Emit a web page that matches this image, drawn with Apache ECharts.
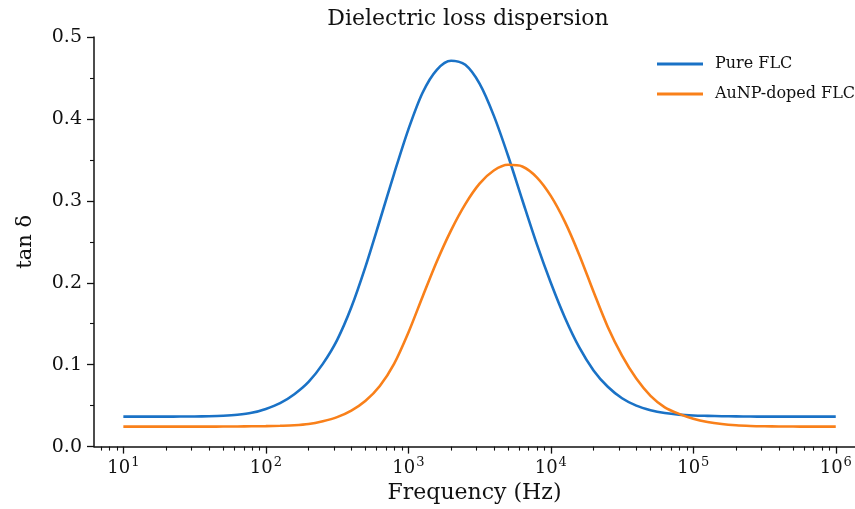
<!DOCTYPE html>
<html>
<head>
<meta charset="utf-8">
<script src="https://cdn.jsdelivr.net/npm/echarts@6/dist/echarts.min.js"></script>
<style>
  html, body { margin: 0; padding: 0; background: #fff; }
  #chart { width: 855px; height: 509px; }
</style>
</head>
<body>
<div id="chart"></div>
<script>
// log10 of frequency (Hz), 0.1 decade steps
var logFreq = [1.0, 1.1, 1.2, 1.3, 1.4, 1.5, 1.6, 1.7, 1.8, 1.9,
  2.0, 2.1, 2.2, 2.3, 2.4, 2.5, 2.6, 2.7, 2.8, 2.9,
  3.0, 3.1, 3.2, 3.3, 3.4, 3.5, 3.6, 3.7, 3.8, 3.9,
  4.0, 4.1, 4.2, 4.3, 4.4, 4.5, 4.6, 4.7, 4.8, 4.9,
  5.0, 5.1, 5.2, 5.3, 5.4, 5.5, 5.6, 5.7, 5.8, 5.9, 6.0];

var pureFLC = [0.0366, 0.0366, 0.0366, 0.0366, 0.0367, 0.0368, 0.0371, 0.0377, 0.0389, 0.0412,
  0.046, 0.053, 0.064, 0.079, 0.101, 0.130, 0.170, 0.220, 0.276, 0.333,
  0.387, 0.432, 0.460, 0.471, 0.466, 0.443, 0.404, 0.355, 0.301, 0.248,
  0.200, 0.157, 0.121, 0.093, 0.073, 0.059, 0.050, 0.0445, 0.041, 0.039,
  0.038, 0.0375, 0.0371, 0.0369, 0.0367, 0.0366, 0.0366, 0.0366, 0.0366, 0.0366, 0.0366];

var aunpFLC = [0.0244, 0.0244, 0.0244, 0.0244, 0.0244, 0.0244, 0.0244, 0.0245, 0.0246, 0.0248,
  0.025, 0.0254, 0.026, 0.0275, 0.031, 0.036, 0.044, 0.056, 0.074, 0.101,
  0.139, 0.183, 0.226, 0.264, 0.296, 0.321, 0.337, 0.344, 0.342, 0.329,
  0.306, 0.274, 0.234, 0.189, 0.146, 0.111, 0.083, 0.062, 0.048, 0.040,
  0.034, 0.030, 0.0275, 0.026, 0.0252, 0.0248, 0.0246, 0.0245, 0.0244, 0.0244, 0.0244];

var majorTicks = [1, 2, 3, 4, 5, 6];

var xMin = 0.794, xMax = 6.135;
var minorTicks = [];
for (var n = 0; n <= 6; n++) {
  for (var k = 2; k <= 9; k++) {
    var v = n + Math.log10(k);
    if (v > xMin && v < xMax) minorTicks.push(v);
  }
}

function pairs(ys) {
  return logFreq.map(function (x, i) { return [x, ys[i]]; });
}

var font = 'DejaVu Serif';
var chart = echarts.init(document.getElementById('chart'));
chart.setOption({
  animation: false,
  backgroundColor: '#fff',
  title: {
    text: 'Dielectric loss dispersion',
    left: 463, top: 3, textAlign: 'center',
    textStyle: { fontFamily: font, fontSize: 22, fontWeight: 'normal', color: '#111' }
  },
  legend: {
    orient: 'vertical',
    left: 652, top: 51,
    itemWidth: 46, itemHeight: 3, itemGap: 14,
    icon: 'rect',
    data: ['Pure FLC', 'AuNP-doped FLC'],
    textStyle: { fontFamily: font, fontSize: 16, color: '#111', padding: [0, 0, 0, 7] }
  },
  grid: { left: 94, right: 0, top: 37, bottom: 62 },
  xAxis: [{
    type: 'value', min: xMin, max: xMax,
    name: 'Frequency (Hz)', nameLocation: 'middle', nameGap: 35,
    nameTextStyle: { fontFamily: font, fontSize: 22, color: '#111' },
    axisLine: { lineStyle: { color: '#111', width: 1.5 } },
    axisTick: { customValues: majorTicks, length: 7, lineStyle: { color: '#111', width: 1.3 } },
    axisLabel: {
      customValues: majorTicks, margin: 10,
      formatter: function (v) { return '{b|10}{s|' + Math.round(v) + '}'; },
      rich: {
        b: { fontFamily: font, fontSize: 18, color: '#111' },
        s: { fontFamily: font, fontSize: 13, color: '#111', verticalAlign: 'bottom', padding: [0, 0, 10, 1] }
      }
    },
    splitLine: { show: false }
  }, {
    type: 'value', min: xMin, max: xMax, position: 'bottom',
    axisLine: { show: false },
    axisTick: { customValues: minorTicks, length: 4, lineStyle: { color: '#111', width: 1.1 } },
    axisLabel: { show: false },
    splitLine: { show: false }
  }],
  yAxis: {
    type: 'value', min: 0, max: 0.5, interval: 0.1,
    name: 'tan δ', nameLocation: 'middle', nameGap: 58,
    nameTextStyle: { fontFamily: font, fontSize: 21, color: '#111' },
    axisLine: { show: true, lineStyle: { color: '#111', width: 1.5 } },
    axisTick: { show: true, length: 7, lineStyle: { color: '#111', width: 1.3 } },
    minorTick: { show: true, splitNumber: 2, length: 4, lineStyle: { color: '#111', width: 1.1 } },
    axisLabel: {
      margin: 12, fontFamily: font, fontSize: 19, color: '#111',
      formatter: function (v) { return v.toFixed(1); }
    },
    splitLine: { show: false }
  },
  series: [{
    name: 'Pure FLC', type: 'line', data: pairs(pureFLC),
    symbol: 'none', smooth: 0.3,
    lineStyle: { color: '#1a72c6', width: 2.6 }, itemStyle: { color: '#1a72c6' }
  }, {
    name: 'AuNP-doped FLC', type: 'line', data: pairs(aunpFLC),
    symbol: 'none', smooth: 0.3,
    lineStyle: { color: '#f9801a', width: 2.6 }, itemStyle: { color: '#f9801a' }
  }]
});
</script>
</body>
</html>
